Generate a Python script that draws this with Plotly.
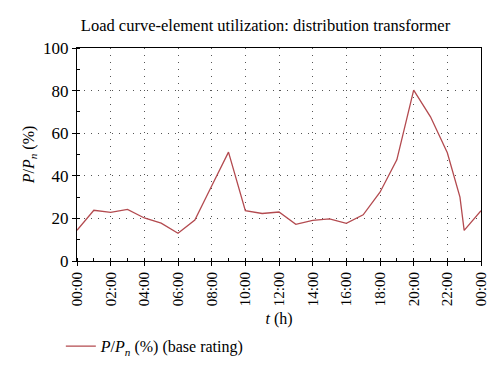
import plotly.graph_objects as go

hours = [0, 1, 2, 3, 4, 5, 6, 7, 8, 9, 10, 11, 12, 13, 14, 15, 16, 17, 18, 19, 20, 21, 22, 22.75, 23, 24]
load_pct = [14.4, 23.8, 22.8, 24.2, 20.2, 17.8, 13.0, 19.2, 35.2, 51.1, 23.6, 22.3, 23.0, 17.2, 19.1, 19.8, 17.7,
            21.7, 32.3, 47.5, 80.2, 67.7, 50.8, 30.0, 14.4, 23.6]
tick_hours = list(range(0, 25, 2))
tick_labels = ["%02d:00" % (h % 24) for h in tick_hours]

ff = "Liberation Serif, Times New Roman, serif"

fig = go.Figure()
fig.add_trace(go.Scatter(
    x=hours, y=load_pct, mode="lines",
    line=dict(color="#b34a4f", width=1.3),
    name="<i>P</i>/<i>P</i><sub><i>n</i></sub> (%) (base rating)",
    showlegend=True,
))

fig.update_layout(
    width=500, height=377,
    margin=dict(l=69, r=27, t=40, b=124),
    paper_bgcolor="white", plot_bgcolor="white",
    font=dict(family=ff, size=14, color="black"),
    title=dict(text="Load curve-element utilization: distribution transformer",
               x=0.515, xanchor="center", y=0.955, yanchor="middle",
               font=dict(family=ff, size=16.5, color="black")),
    showlegend=True,
    legend=dict(orientation="h", x=-0.04, xanchor="left", y=-0.40, yanchor="middle",
                font=dict(family=ff, size=16, color="black"), bgcolor="rgba(0,0,0,0)",
                itemwidth=30),
)

fig.update_xaxes(
    range=[0, 24], tickmode="array", tickvals=tick_hours, ticktext=tick_labels,
    tickangle=-90, tickfont=dict(family=ff, size=15, color="black"),
    showline=True, linecolor="black", linewidth=1.2, mirror=True,
    ticks="outside", ticklen=4, tickcolor="black",
    minor=dict(dtick=1, ticks="inside", ticklen=3, tickcolor="black", showgrid=False),
    showgrid=True, gridcolor="#555555", griddash="1px,6px", gridwidth=1.3,
    zeroline=False,
    title=dict(text="<i>t</i> (h)", font=dict(family=ff, size=16, color="black"), standoff=7),
)
fig.update_yaxes(
    range=[0, 100], tickmode="array", tickvals=[0, 20, 40, 60, 80, 100],
    tickfont=dict(family=ff, size=17, color="black"),
    showline=True, linecolor="black", linewidth=1.2, mirror=True,
    ticks="outside", ticklen=4, tickcolor="black",
    minor=dict(dtick=10, ticks="inside", ticklen=3, tickcolor="black", showgrid=False),
    showgrid=True, gridcolor="#555555", griddash="1px,6px", gridwidth=1.3,
    zeroline=False,
    title=dict(text="<i>P</i>/<i>P</i><sub><i>n</i></sub> (%)", font=dict(family=ff, size=16, color="black"), standoff=4),
)

fig.write_html("out.html")
